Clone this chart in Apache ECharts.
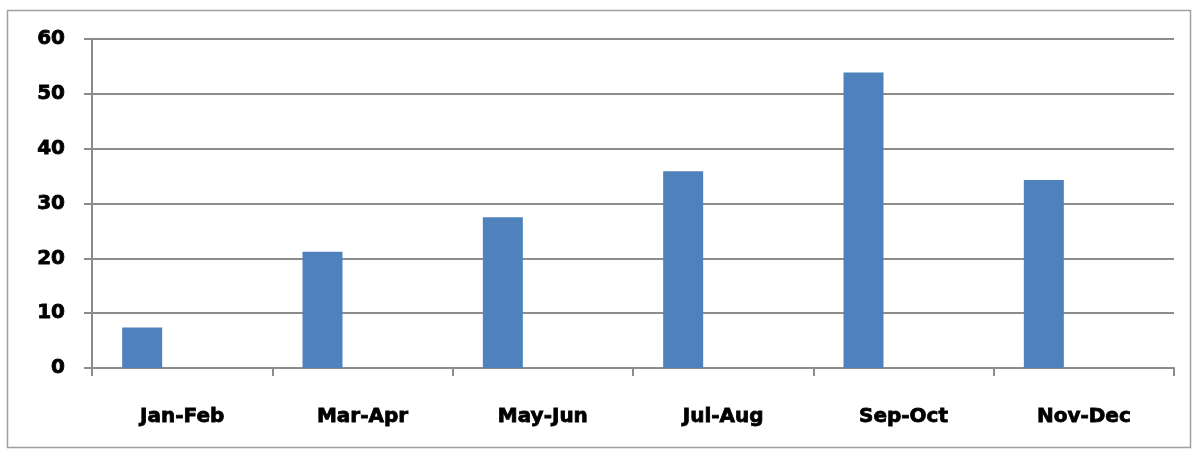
<!DOCTYPE html>
<html>
<head>
<meta charset="utf-8">
<script src="https://cdn.jsdelivr.net/npm/echarts@6/dist/echarts.min.js"></script>
<style>
html,body{margin:0;padding:0;background:#fff;}
#chart{width:1203px;height:453px;}
</style>
</head>
<body>
<div id="chart"></div>
<script>
const categories = ['Jan-Feb','Mar-Apr','May-Jun','Jul-Aug','Sep-Oct','Nov-Dec'];
const values = [7.4, 21.2, 27.5, 35.9, 53.9, 34.3];
const emptySeries = [null, null, null, null, null, null];
const yTicks = [0, 10, 20, 30, 40, 50, 60];

const chart = echarts.init(document.getElementById('chart'));
const labelFont = {fontFamily: 'DejaVu Sans', fontWeight: 'bold', fontSize: 20, color: '#000',
  textBorderColor: '#000', textBorderWidth: 0.8};
chart.setOption({
  animation: false,
  backgroundColor: '#fff',
  graphic: [{
    type: 'rect', shape: {x: 7.5, y: 10.5, width: 1183, height: 437},
    style: {fill: 'none', stroke: '#a0a0a0', lineWidth: 1.5}, z: -1
  }],
  grid: {left: 92, right: 29, top: 39, bottom: 85},
  xAxis: {
    type: 'category', data: categories,
    axisLine: {lineStyle: {color: '#8c8c8c', width: 2}},
    axisTick: {show: true, length: 8, alignWithLabel: false, lineStyle: {color: '#8c8c8c', width: 2}},
    axisLabel: Object.assign({margin: 39}, labelFont)
  },
  yAxis: {
    type: 'value', min: yTicks[0], max: yTicks[yTicks.length-1], interval: 10,
    axisLine: {show: true, lineStyle: {color: '#8c8c8c', width: 2}},
    axisTick: {show: true, length: 8, lineStyle: {color: '#8c8c8c', width: 2}},
    splitLine: {lineStyle: {color: '#8c8c8c', width: 2}},
    axisLabel: Object.assign({margin: 27}, labelFont)
  },
  series: [
    {type: 'bar', data: values, barWidth: 40, barGap: '100%', itemStyle: {color: '#4f81bd'}},
    {type: 'bar', data: emptySeries, barWidth: 40, itemStyle: {color: '#c0504d'}}
  ]
});
</script>
</body>
</html>
